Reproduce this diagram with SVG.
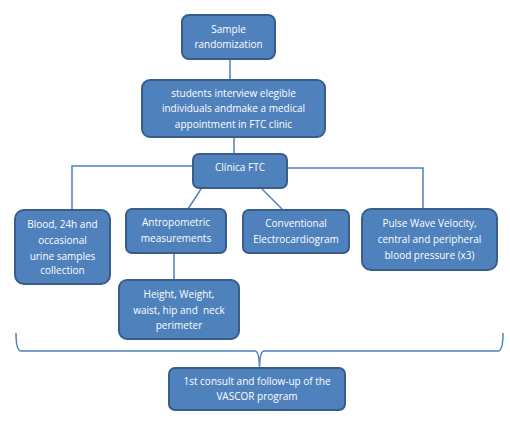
<svg xmlns="http://www.w3.org/2000/svg" width="510" height="427" viewBox="0 0 510 427">
<style>
.box{fill:#4F81BD;stroke:#385D8A;stroke-width:2}
.t{fill:#FFFFFF;font-family:"Open Sans","Liberation Sans",sans-serif;font-size:10px;text-anchor:middle}
.c{fill:none;stroke:#4F81BD;stroke-width:1.5}
</style>
<rect width="510" height="427" fill="#FFFFFF"/>
<g id="connectors">
<path class="c" d="M230 59V80"/>
<path class="c" d="M234 137V154"/>
<path class="c" d="M193 166H72V210"/>
<path class="c" d="M201 189L188 209"/>
<path class="c" d="M262 189L283 210"/>
<path class="c" d="M287 168H423V209"/>
<path class="c" d="M174 254V280"/>
<path class="c" d="M16 333Q16 351 21 351H255Q259 351 259.5 367Q260 351 264 351H498Q503 351 503 333"/>
</g>
<g id="n1"><rect class="box" x="182" y="15" width="93" height="44" rx="7"/>
<text class="t" x="228.5" y="33">Sample</text><text class="t" x="228.5" y="48">randomization</text></g>
<g id="n2"><rect class="box" x="142" y="80" width="183" height="57" rx="8"/>
<text class="t" x="233.5" y="97">students interview elegible</text><text class="t" x="233.5" y="112">individuals andmake a medical</text><text class="t" x="233.5" y="128">appointment in FTC clinic</text></g>
<g id="n3"><rect class="box" x="193" y="154" width="94" height="34" rx="6"/>
<text class="t" x="240" y="171">Clínica FTC</text></g>
<g id="n4"><rect class="box" x="15" y="210" width="95" height="74" rx="9"/>
<text class="t" x="62.5" y="228">Blood, 24h and</text><text class="t" x="62.5" y="244">occasional</text><text class="t" x="62.5" y="260">urine samples</text><text class="t" x="62.5" y="274">collection</text></g>
<g id="n5"><rect class="box" x="126" y="209" width="100" height="44" rx="6"/>
<text class="t" x="176" y="226">Antropometric</text><text class="t" x="176" y="242">measurements</text></g>
<g id="n6"><rect class="box" x="243" y="210" width="106" height="43" rx="6"/>
<text class="t" x="296" y="227">Conventional</text><text class="t" x="296" y="243">Electrocardiogram</text></g>
<g id="n7"><rect class="box" x="362" y="209" width="135" height="61" rx="9"/>
<text class="t" x="429.5" y="227">Pulse Wave Velocity,</text><text class="t" x="429.5" y="243">central and peripheral</text><text class="t" x="429.5" y="259">blood pressure (x3)</text></g>
<g id="n8"><rect class="box" x="119" y="280" width="120" height="59" rx="8"/>
<text class="t" x="179" y="298">Height, Weight,</text><text class="t" x="179" y="314" xml:space="preserve">waist, hip and  neck</text><text class="t" x="179" y="329">perimeter</text></g>
<g id="n9"><rect class="box" x="169" y="368" width="176" height="42" rx="6"/>
<text class="t" x="257" y="385">1st consult and follow-up of the</text><text class="t" x="257" y="400">VASCOR program</text></g>
</svg>
